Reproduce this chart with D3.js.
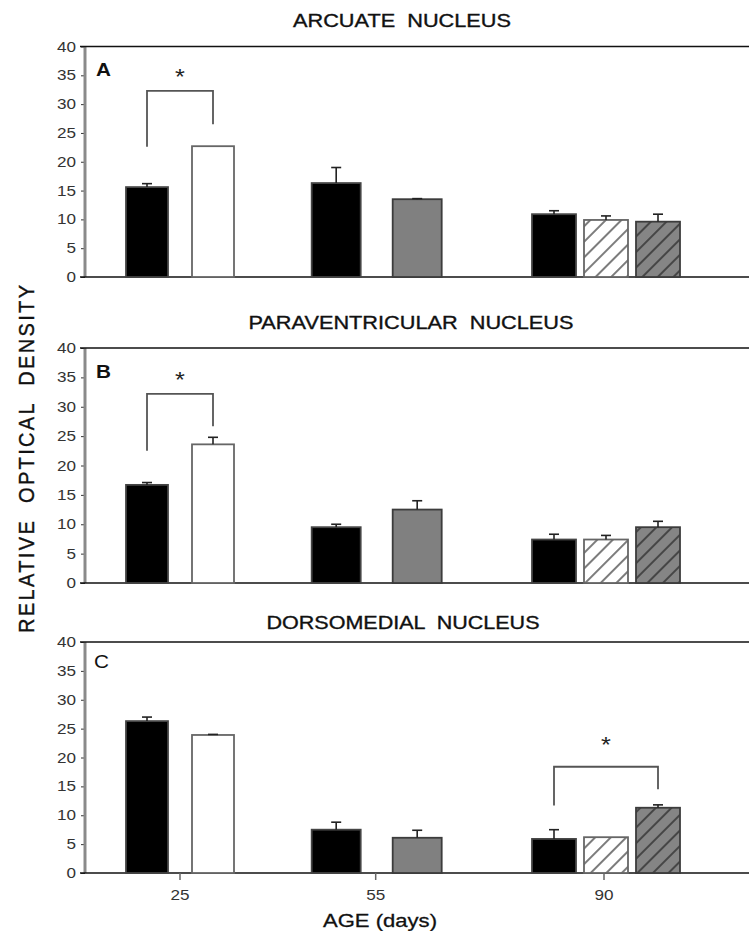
<!DOCTYPE html>
<html>
<head>
<meta charset="utf-8">
<script src="https://cdn.jsdelivr.net/npm/d3@7"></script>
<style>
  body { margin: 0; background: #fff; }
  svg { display: block; font-family: "Liberation Sans", Arial, sans-serif; }
</style>
</head>
<body>
<svg id="chart" width="749" height="931"></svg>
<script>
// ---- data ----
const ages = [25, 55, 90];
const barAge  = [25, 25, 55, 55, 90, 90, 90];
const barKind = ["control", "treatedA", "control", "treatedB", "control", "treatedC", "treatedD"];

const panelTitles  = ["ARCUATE  NUCLEUS", "PARAVENTRICULAR  NUCLEUS", "DORSOMEDIAL  NUCLEUS"];
const panelLetters = ["A", "B", "C"];
const yTicks = [0, 5, 10, 15, 20, 25, 30, 35, 40];

const arcuateMean = [15.6, 22.7, 16.3, 13.5, 10.9, 9.9, 9.6];
const arcuateErr  = [0.6, 0, 2.7, 0.1, 0.6, 0.7, 1.3];
const paraMean    = [16.7, 23.6, 9.5, 12.5, 7.4, 7.4, 9.5];
const paraErr     = [0.4, 1.2, 0.5, 1.5, 0.9, 0.7, 1.0];
const dorsoMean   = [26.3, 23.9, 7.5, 6.1, 5.9, 6.2, 11.3];
const dorsoErr    = [0.7, 0.1, 1.3, 1.3, 1.6, 0, 0.5];

// significance: [left bar, right bar, left foot, bracket top, right foot, asterisk centre]
const arcuateSig = [0, 1, 22.6, 32.3, 26.5, 35.7];
const paraSig    = [0, 1, 22.5, 32.2, 26.7, 35.5];
const dorsoSig   = [4, 6, 11.7, 18.4, 14.5, 23.2];

const yLabel = "RELATIVE  OPTICAL  DENSITY";
const xLabel = "AGE (days)";

// ---- layout ----
const W = 749;
const axisX = 85;
const panels = [
  { mean: arcuateMean, err: arcuateErr, sig: arcuateSig, top: 46.5, zero: 277,
    titleX: 402, titleY: 27, titleW: 218, letterX: 96, letterY: 76 },
  { mean: paraMean, err: paraErr, sig: paraSig, top: 348, zero: 583,
    titleX: 411, titleY: 329, titleW: 325, letterX: 96, letterY: 378 },
  { mean: dorsoMean, err: dorsoErr, sig: dorsoSig, top: 642, zero: 873,
    titleX: 403, titleY: 629, titleW: 273, letterX: 94, letterY: 668 }
];
const groupLayout = {
  25: { step: 66, width: 42, shift: 0 },
  55: { step: 81, width: 49, shift: 1 },
  90: { step: 52, width: 44, shift: 2 }
};
const kindStyle = {
  control:  { fill: "#000",              stroke: "#444" },
  treatedA: { fill: "#fff",              stroke: "#666" },
  treatedB: { fill: "#808080",           stroke: "#3c3c3c" },
  treatedC: { fill: "url(#hatchWhite)",  stroke: "#666" },
  treatedD: { fill: "url(#hatchGray)",   stroke: "#3c3c3c" }
};
const tickStretch = 1.18;

const svg = d3.select("#chart");
const defs = svg.append("defs");

function hatch(id, bg) {
  const p = defs.append("pattern")
    .attr("id", id).attr("patternUnits", "userSpaceOnUse")
    .attr("width", 11).attr("height", 11)
    .attr("patternTransform", "rotate(45)");
  p.append("rect").attr("width", 11).attr("height", 11).attr("fill", bg);
  p.append("line").attr("x1", 1).attr("x2", 1).attr("y1", 0).attr("y2", 11)
    .attr("stroke", "#111").attr("stroke-width", 1.1);
}
hatch("hatchWhite", "#fff");
hatch("hatchGray", "#858585");

const x = d3.scaleLinear().domain([25, 90]).range([180, 604]);

// one band scale per age group, centred on the age position
const bandFor = {};
ages.forEach(a => {
  const idx = barAge.map((b, i) => b === a ? i : -1).filter(i => i >= 0);
  const L = groupLayout[a];
  const n = idx.length;
  const c = x(a) + L.shift;
  const p = (L.step - L.width) / L.step;
  bandFor[a] = d3.scaleBand().domain(idx).range([c - n * L.step / 2, c + n * L.step / 2])
    .paddingInner(p).paddingOuter(p / 2);
});
const barLeft = i => bandFor[barAge[i]](i);
const barWidth = i => bandFor[barAge[i]].bandwidth();
const barCenter = i => barLeft(i) + barWidth(i) / 2;

function stretched(g, tx, ty, str, size, anchor, sx) {
  return g.append("text")
    .attr("transform", `translate(${tx},${ty}) scale(${sx},1)`)
    .attr("text-anchor", anchor)
    .attr("font-size", size)
    .style("white-space", "pre")
    .text(str);
}

panels.forEach((P, pi) => {
  const g = svg.append("g");
  const y = d3.scaleLinear().domain([0, 40]).range([P.zero, P.top]);

  // title
  g.append("text")
    .attr("x", P.titleX - P.titleW / 2).attr("y", P.titleY)
    .attr("font-size", 18).attr("fill", "#111")
    .attr("stroke", "#111").attr("stroke-width", 0.35)
    .attr("textLength", P.titleW).attr("lengthAdjust", "spacingAndGlyphs")
    .style("white-space", "pre")
    .text(panelTitles[pi]);

  // y axis
  const ax = g.append("g").attr("transform", `translate(${axisX},0)`)
    .call(d3.axisLeft(y).tickValues(yTicks).tickSize(4).tickFormat(""));
  ax.select(".domain").remove();
  ax.selectAll(".tick line").attr("stroke", "#333").attr("stroke-width", 1);
  yTicks.forEach(t => {
    stretched(g, 76, y(t) + 5, String(t), 14.5, "end", tickStretch).attr("fill", "#333");
  });
  g.append("line").attr("x1", axisX).attr("x2", axisX)
    .attr("y1", y(40)).attr("y2", y(0))
    .attr("stroke", "#8a8a8a").attr("stroke-width", 3);
  // top frame line and baseline
  [40, 0].forEach(v => {
    g.append("line").attr("x1", axisX - 5).attr("x2", W)
      .attr("y1", y(v)).attr("y2", y(v))
      .attr("stroke", "#111").attr("stroke-width", 1.6);
  });

  // panel letter
  stretched(g, P.letterX, P.letterY, panelLetters[pi], 18, "start", 1.15)
    .attr("fill", "#111").attr("font-weight", pi < 2 ? "bold" : "normal");

  // bars
  const idx = d3.range(P.mean.length);
  g.selectAll("rect.bar").data(idx).join("rect")
    .attr("class", "bar")
    .attr("x", i => barLeft(i))
    .attr("width", i => barWidth(i))
    .attr("y", i => y(P.mean[i]))
    .attr("height", i => y(0) - y(P.mean[i]))
    .attr("fill", i => kindStyle[barKind[i]].fill)
    .attr("stroke", i => kindStyle[barKind[i]].stroke)
    .attr("stroke-width", 1.8);

  // error bars
  idx.filter(i => P.err[i] > 0).forEach(i => {
    const cx = barCenter(i);
    g.append("line").attr("x1", cx).attr("x2", cx)
      .attr("y1", y(P.mean[i])).attr("y2", y(P.mean[i] + P.err[i]))
      .attr("stroke", "#222").attr("stroke-width", 1.6);
    g.append("line").attr("x1", cx - 5).attr("x2", cx + 5)
      .attr("y1", y(P.mean[i] + P.err[i])).attr("y2", y(P.mean[i] + P.err[i]))
      .attr("stroke", "#222").attr("stroke-width", 1.6);
  });

  // significance bracket and asterisk
  const [a, b, lf, tp, rf, st] = P.sig;
  const xa = barCenter(a), xb = barCenter(b);
  g.append("path")
    .attr("d", d3.line()([[xa, y(lf)], [xa, y(tp)], [xb, y(tp)], [xb, y(rf)]]))
    .attr("fill", "none").attr("stroke", "#555").attr("stroke-width", 1.8);
  stretched(g, (xa + xb) / 2, y(st) + 12.5, "*", 22, "middle", 1.15).attr("fill", "#222");

  // x axis ticks and labels on the bottom panel only
  if (pi === panels.length - 1) {
    ages.forEach(a => {
      g.append("line").attr("x1", x(a)).attr("x2", x(a))
        .attr("y1", y(0)).attr("y2", y(0) + 7)
        .attr("stroke", "#666").attr("stroke-width", 1.5);
      stretched(g, x(a), y(0) + 27, String(a), 14.5, "middle", tickStretch).attr("fill", "#333");
    });
  }
});

// axis titles
svg.append("text")
  .attr("transform", "translate(34,459) scale(1.12,1) rotate(-90)")
  .attr("text-anchor", "middle")
  .attr("font-size", 20).attr("fill", "#111")
  .attr("stroke", "#111").attr("stroke-width", 0.35)
  .attr("textLength", 348).attr("lengthAdjust", "spacing")
  .style("white-space", "pre")
  .text(yLabel);

svg.append("text")
  .attr("x", 380 - 57).attr("y", 927)
  .attr("font-size", 19).attr("fill", "#111")
  .attr("stroke", "#111").attr("stroke-width", 0.3)
  .attr("textLength", 114).attr("lengthAdjust", "spacingAndGlyphs")
  .text(xLabel);
</script>
</body>
</html>
